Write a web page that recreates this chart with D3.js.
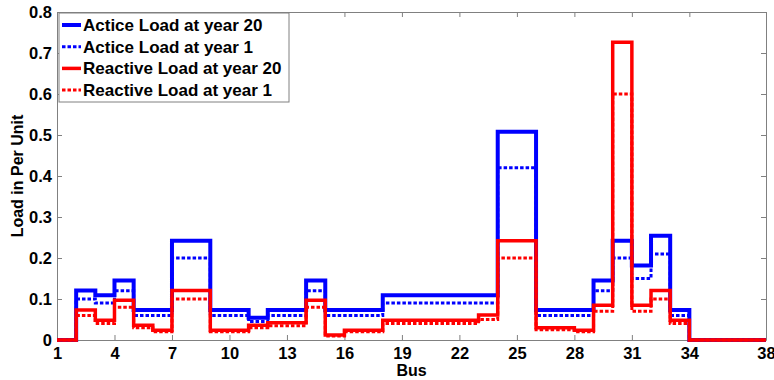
<!DOCTYPE html>
<html>
<head>
<meta charset="utf-8">
<script src="https://cdn.jsdelivr.net/npm/d3@7"></script>
<style>
  body { margin: 0; background: #fff; }
  text { font-family: "Liberation Sans", Arial, sans-serif; font-weight: bold; }
</style>
</head>
<body>
<div id="chart"></div>
<script>
//bus numbers
var bus = d3.range(1, 39);

//active load at year 1 (per unit)
var activeYear1 = [0, 0.10, 0.09, 0.12, 0.06, 0.06, 0.20, 0.20, 0.06, 0.06, 0.045, 0.06, 0.06,
  0.12, 0.06, 0.06, 0.06, 0.09, 0.09, 0.09, 0.09, 0.09, 0.09, 0.42, 0.42, 0.06, 0.06, 0.06,
  0.12, 0.20, 0.15, 0.21, 0.06, 0, 0, 0, 0, 0];

//active load at year 20
var activeYear20 = [0, 0.121, 0.109, 0.145, 0.073, 0.073, 0.242, 0.242, 0.073, 0.073, 0.054, 0.073, 0.073,
  0.145, 0.073, 0.073, 0.073, 0.109, 0.109, 0.109, 0.109, 0.109, 0.109, 0.508, 0.508, 0.073, 0.073, 0.073,
  0.145, 0.242, 0.182, 0.254, 0.073, 0, 0, 0, 0, 0];

//reactive load at year 1
var reactiveYear1 = [0, 0.06, 0.04, 0.08, 0.03, 0.02, 0.10, 0.10, 0.02, 0.02, 0.03, 0.035, 0.035,
  0.08, 0.01, 0.02, 0.02, 0.04, 0.04, 0.04, 0.04, 0.04, 0.05, 0.20, 0.20, 0.025, 0.025, 0.02,
  0.07, 0.60, 0.07, 0.10, 0.04, 0, 0, 0, 0, 0];

//reactive load at year 20
var reactiveYear20 = [0, 0.073, 0.048, 0.097, 0.036, 0.024, 0.121, 0.121, 0.024, 0.024, 0.036, 0.042, 0.042,
  0.097, 0.012, 0.024, 0.024, 0.048, 0.048, 0.048, 0.048, 0.048, 0.061, 0.242, 0.242, 0.030, 0.030, 0.024,
  0.085, 0.726, 0.085, 0.121, 0.048, 0, 0, 0, 0, 0];

var xTicks = [1, 4, 7, 10, 13, 16, 19, 22, 25, 28, 31, 34, 38];
var yTicks = [0, 0.1, 0.2, 0.3, 0.4, 0.5, 0.6, 0.7, 0.8];

var series = [
  {name: "Actice Load at year 20", values: activeYear20, color: "#0000ff", width: 4, dash: null},
  {name: "Actice Load at year 1", values: activeYear1, color: "#0000ff", width: 3, dash: "3.5,2"},
  {name: "Reactive Load at year 20", values: reactiveYear20, color: "#ff0000", width: 3.5, dash: null},
  {name: "Reactive Load at year 1", values: reactiveYear1, color: "#ff0000", width: 3, dash: "3.5,2"}
];

var margin = {top: 12, right: 8, bottom: 40, left: 57};
var width = 774 - margin.left - margin.right;
var height = 380 - margin.top - margin.bottom;

var svg = d3.select("#chart").append("svg")
    .attr("width", 774)
    .attr("height", 380)
  .append("g")
    .attr("transform", "translate(" + margin.left + "," + margin.top + ")");

var x = d3.scaleLinear().domain([1, 38]).range([0, width]);
var y = d3.scaleLinear().domain([0, 0.8]).range([height, 0]);

//axes with inward ticks on all four sides
var axisColor = "#808080";
function styleAxis(g) {
  g.select(".domain").attr("stroke", axisColor);
  g.selectAll(".tick line").attr("stroke", axisColor);
  g.selectAll(".tick text").attr("fill", "#000").style("font-size", "16.5px");
}

svg.append("g")
  .attr("transform", "translate(0," + height + ")")
  .call(d3.axisBottom(x).tickValues(xTicks).tickSizeInner(-5).tickSizeOuter(0).tickPadding(7))
  .call(styleAxis);

svg.append("g")
  .call(d3.axisTop(x).tickValues(xTicks).tickSizeInner(-5).tickSizeOuter(0).tickFormat(""))
  .call(styleAxis);

svg.append("g")
  .call(d3.axisLeft(y).tickValues(yTicks).tickSizeInner(-5).tickSizeOuter(0).tickPadding(5)
    .tickFormat(function(d) { return d === 0 ? "0" : d3.format(".1f")(d); }))
  .call(styleAxis);

svg.append("g")
  .attr("transform", "translate(" + width + ",0)")
  .call(d3.axisRight(y).tickValues(yTicks).tickSizeInner(-5).tickSizeOuter(0).tickFormat(""))
  .call(styleAxis);

//step lines
var line = d3.line()
  .curve(d3.curveStepAfter)
  .x(function(d, i) { return x(bus[i]); })
  .y(function(d) { return y(d); });

series.forEach(function(s) {
  svg.append("path")
    .datum(s.values)
    .attr("fill", "none")
    .attr("stroke", s.color)
    .attr("stroke-width", s.width)
    .attr("stroke-dasharray", s.dash)
    .attr("d", line);
});

//axis labels
svg.append("text")
  .attr("x", width / 2)
  .attr("y", height + 36)
  .attr("text-anchor", "middle")
  .style("font-size", "16px")
  .text("Bus");

svg.append("text")
  .attr("transform", "translate(-34," + height / 2 + ") rotate(-90)")
  .attr("text-anchor", "middle")
  .style("font-size", "16px")
  .text("Load in Per Unit");

//legend
var legend = svg.append("g").attr("transform", "translate(2,1)");
legend.append("rect")
  .attr("width", 230)
  .attr("height", 89)
  .attr("fill", "#fff")
  .attr("stroke", axisColor);

series.forEach(function(s, i) {
  var row = legend.append("g").attr("transform", "translate(0," + (12 + i * 21.7) + ")");
  row.append("line")
    .attr("x1", 3).attr("x2", 22)
    .attr("stroke", s.color)
    .attr("stroke-width", s.width)
    .attr("stroke-dasharray", s.dash);
  row.append("text")
    .attr("x", 24)
    .attr("dy", "0.35em")
    .style("font-size", "17px")
    .text(s.name);
});
</script>
</body>
</html>
